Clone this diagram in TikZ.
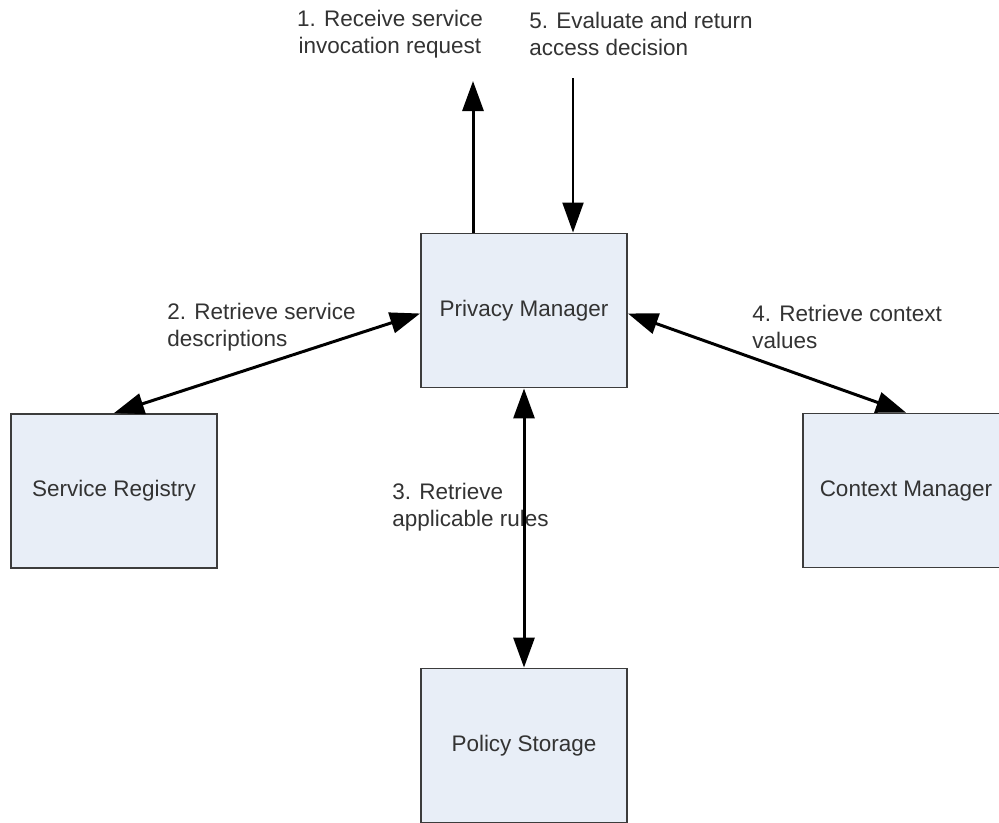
\documentclass[tikz,border=0pt]{standalone}
\usepackage{fontspec}
\setmainfont{Liberation Sans}
\usetikzlibrary{arrows.meta}
\definecolor{boxfill}{HTML}{E8EEF7}
\definecolor{boxline}{HTML}{3C3C3C}
\definecolor{txt}{HTML}{333333}
\begin{document}
\begin{tikzpicture}[x=0.02cm,y=-0.02cm,
    font=\fontsize{12.8}{15.4}\selectfont,
    comp/.style={draw=boxline,fill=boxfill,line width=1.1pt,minimum width=4.12cm,minimum height=3.08cm,inner sep=0pt,text=txt},
    lbl/.style={inner sep=0pt,text=txt,align=left},
    >={Triangle[length=0.6cm,width=0.42cm]},
    arr/.style={line width=1.7pt,black}]
        \clip(0,0)rectangle(999,822);
        \fill[white](0,0)rectangle(999,822);
        \node[comp](pm)at(524,310.5){Privacy Manager};
        \node[comp](sr)at(114,491){Service Registry};
        \node[comp](cm)at(906,490.5){Context Manager};
        \node[comp](ps)at(524,745.5){Policy Storage};
        \node[lbl,align=center](l1)at(390,34){1. Receive service\\invocation request};
        \node[lbl,anchor=west](l5)at(529,34){5. Evaluate and return\\access decision};
        \node[lbl,anchor=west](l2)at(167,327){2. Retrieve service\\descriptions};
        \node[lbl,anchor=west](l3)at(392,507){3. Retrieve\\applicable rules};
        \node[lbl,anchor=west](l4)at(752,327){4. Retrieve context\\values};
        \coordinate(req)at(473,81);
        \coordinate(dec)at(573,78);
        \draw[arr,->](pm.north-|req)--(req);
        \draw[arr,->,line width=1.2pt](dec)--(pm.north-|dec);
        \draw[arr,<->](sr.north)--([yshift=-0.06cm]pm.west);
        \draw[arr,<->]([yshift=-0.06cm]pm.east)--(cm.north);
        \draw[arr,<->](pm.south)--(ps.north);
    \end{tikzpicture}
\end{document}
